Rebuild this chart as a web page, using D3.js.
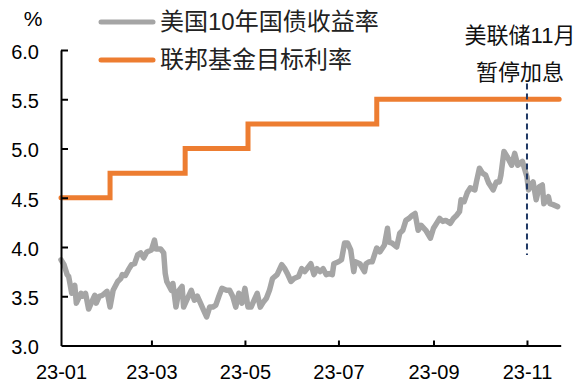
<!DOCTYPE html>
<html>
<head>
<meta charset="utf-8">
<script src="https://cdn.jsdelivr.net/npm/d3@7"></script>
<style>
  body { margin: 0; background: #fff; }
  svg { display: block; font-family: "Liberation Sans", Arial, "Noto Sans CJK SC", sans-serif; }
</style>
</head>
<body>
<svg id="chart" width="582" height="385"></svg>
<script>
// 美国10年国债收益率
const ust10y = [
  ["2023-01-01",3.87],["2023-01-03",3.82],["2023-01-05",3.72],["2023-01-06",3.70],["2023-01-08",3.53],
  ["2023-01-10",3.61],["2023-01-11",3.43],["2023-01-14",3.53],["2023-01-15",3.50],["2023-01-17",3.53],
  ["2023-01-19",3.37],["2023-01-21",3.44],["2023-01-23",3.51],["2023-01-24",3.43],["2023-01-26",3.50],
  ["2023-01-28",3.51],["2023-01-31",3.55],["2023-02-02",3.39],["2023-02-04",3.56],["2023-02-07",3.65],
  ["2023-02-09",3.68],["2023-02-10",3.72],["2023-02-12",3.71],["2023-02-14",3.77],["2023-02-16",3.82],
  ["2023-02-18",3.83],["2023-02-20",3.92],["2023-02-22",3.94],["2023-02-24",3.89],["2023-02-26",3.95],
  ["2023-03-01",3.97],["2023-03-03",4.07],["2023-03-04",3.98],["2023-03-07",3.98],["2023-03-09",3.94],
  ["2023-03-10",3.73],["2023-03-11",3.65],["2023-03-14",3.56],["2023-03-15",3.63],["2023-03-17",3.39],
  ["2023-03-19",3.56],["2023-03-21",3.60],["2023-03-22",3.39],["2023-03-24",3.46],["2023-03-27",3.56],
  ["2023-03-29",3.46],["2023-03-31",3.50],["2023-04-02",3.43],["2023-04-04",3.36],["2023-04-06",3.29],
  ["2023-04-08",3.39],["2023-04-10",3.39],["2023-04-12",3.41],["2023-04-14",3.50],["2023-04-16",3.58],
  ["2023-04-19",3.56],["2023-04-21",3.56],["2023-04-23",3.50],["2023-04-25",3.39],["2023-04-27",3.53],
  ["2023-04-29",3.43],["2023-05-01",3.58],["2023-05-03",3.39],["2023-05-05",3.39],["2023-05-07",3.46],
  ["2023-05-09",3.53],["2023-05-11",3.39],["2023-05-13",3.44],["2023-05-15",3.48],["2023-05-17",3.56],
  ["2023-05-19",3.68],["2023-05-22",3.72],["2023-05-25",3.82],["2023-05-27",3.78],["2023-05-29",3.72],
  ["2023-05-31",3.65],["2023-06-02",3.68],["2023-06-05",3.70],["2023-06-07",3.78],["2023-06-09",3.75],
  ["2023-06-13",3.83],["2023-06-15",3.72],["2023-06-17",3.78],["2023-06-19",3.75],["2023-06-21",3.78],
  ["2023-06-23",3.72],["2023-06-25",3.73],["2023-06-27",3.72],["2023-06-28",3.83],["2023-07-01",3.85],
  ["2023-07-03",3.87],["2023-07-05",4.04],["2023-07-07",4.04],["2023-07-09",3.97],["2023-07-11",3.75],
  ["2023-07-12",3.85],["2023-07-15",3.83],["2023-07-18",3.75],["2023-07-19",3.83],["2023-07-21",3.85],
  ["2023-07-23",3.85],["2023-07-26",3.99],["2023-07-28",3.95],["2023-07-31",4.02],["2023-08-02",4.19],
  ["2023-08-03",4.05],["2023-08-05",4.04],["2023-08-08",4.00],["2023-08-10",4.14],["2023-08-12",4.17],
  ["2023-08-14",4.27],["2023-08-16",4.29],["2023-08-18",4.32],["2023-08-20",4.34],["2023-08-22",4.17],
  ["2023-08-24",4.22],["2023-08-27",4.17],["2023-08-30",4.09],["2023-09-01",4.19],["2023-09-03",4.24],
  ["2023-09-05",4.29],["2023-09-07",4.26],["2023-09-09",4.27],["2023-09-12",4.24],["2023-09-14",4.29],
  ["2023-09-16",4.32],["2023-09-18",4.36],["2023-09-19",4.48],["2023-09-21",4.46],["2023-09-23",4.55],
  ["2023-09-25",4.60],["2023-09-28",4.58],["2023-09-29",4.66],["2023-10-01",4.80],["2023-10-03",4.75],
  ["2023-10-05",4.73],["2023-10-07",4.65],["2023-10-10",4.58],["2023-10-12",4.66],["2023-10-14",4.66],
  ["2023-10-15",4.73],["2023-10-17",4.97],["2023-10-19",4.92],["2023-10-22",4.83],["2023-10-24",4.95],
  ["2023-10-26",4.83],["2023-10-29",4.87],["2023-11-01",4.71],["2023-11-02",4.58],["2023-11-04",4.63],
  ["2023-11-05",4.66],["2023-11-07",4.48],["2023-11-09",4.61],["2023-11-11",4.63],["2023-11-12",4.44],
  ["2023-11-15",4.51],["2023-11-16",4.44],["2023-11-18",4.43],["2023-11-21",4.41]
]

// 联邦基金目标利率 (上限), step changes
const fedRate = [
  ["2023-01-01",4.50],["2023-02-02",4.75],["2023-03-23",5.00],
  ["2023-05-03",5.25],["2023-07-26",5.50],["2023-11-22",5.50]
]

const yTicks = [3.0, 3.5, 4.0, 4.5, 5.0, 5.5, 6.0]
const xTicks = ["2023-01-01","2023-03-01","2023-05-01","2023-07-01","2023-09-01","2023-11-01"]
const seriesNames = ["美国10年国债收益率", "联邦基金目标利率"]
const pauseDate = "2023-11-01"
const pauseRange = [3.92, 5.66]
const pauseText = ["美联储11月", "暂停加息"]

const parse = d3.timeParse("%Y-%m-%d")
const svg = d3.select("#chart")

const x = d3.scaleTime()
  .domain([parse("2023-01-01"), parse("2023-11-23")])
  .range([61, 560.7])
const y = d3.scaleLinear()
  .domain([3, 6])
  .range([345.5, 50])

const grayColor = "#a5a5a5"
const orangeColor = "#ed7d31"

// Lines
const line = d3.line()
  .x(d => x(parse(d[0])))
  .y(d => y(d[1]))

svg.append("path")
  .datum(fedRate)
  .attr("fill", "none")
  .attr("stroke", orangeColor)
  .attr("stroke-width", 5)
  .attr("stroke-linecap", "round")
  .attr("d", line.curve(d3.curveStepAfter))

svg.append("path")
  .datum(ust10y)
  .attr("fill", "none")
  .attr("stroke", grayColor)
  .attr("stroke-width", 5.5)
  .attr("stroke-linejoin", "round")
  .attr("stroke-linecap", "round")
  .attr("d", line.curve(d3.curveLinear))

// Axes
const yAxis = svg.append("g")
  .attr("transform", `translate(${x.range()[0]},0)`)
  .call(d3.axisLeft(y).tickValues(yTicks).tickFormat(d3.format(".1f")).tickSize(-7).tickSizeOuter(0).tickPadding(22))
const xAxis = svg.append("g")
  .attr("transform", `translate(0,${y.range()[0]})`)
  .call(d3.axisBottom(x).tickValues(xTicks.map(parse)).tickFormat(d3.timeFormat("%y-%m")).tickSize(-5).tickSizeOuter(0).tickPadding(19))

for (const g of [yAxis, xAxis]) {
  g.select(".domain").attr("stroke", "#000").attr("stroke-width", 2)
  g.selectAll(".tick line").attr("stroke", "#000").attr("stroke-width", 2)
  g.selectAll(".tick text")
    .attr("fill", "#000")
    .style("font-size", "20px")
    .style("font-family", "'Liberation Sans', Arial, sans-serif")
}
yAxis.selectAll(".tick text").attr("dy", "0.42em")
// drop the 3.0/6.0 inner ticks that sit on the axis ends
yAxis.selectAll(".tick line").filter(d => d === 3).remove()
xAxis.selectAll(".tick line").filter((d, i) => i === 0).remove()

// Unit label
svg.append("text")
  .attr("x", 33)
  .attr("y", 26)
  .attr("text-anchor", "middle")
  .style("font-size", "21px")
  .text("%")

// Legend
const legend = svg.append("g")
const legendRows = [
  { name: seriesNames[0], color: grayColor, y: 22 },
  { name: seriesNames[1], color: orangeColor, y: 60 }
]
legendRows.forEach(r => {
  legend.append("line")
    .attr("x1", 101).attr("x2", 153)
    .attr("y1", r.y).attr("y2", r.y)
    .attr("stroke", r.color)
    .attr("stroke-width", 5)
    .attr("stroke-linecap", "round")
  legend.append("text")
    .attr("x", 160)
    .attr("y", r.y + 8)
    .style("font-size", "24px")
    .style("font-family", "'Liberation Sans', 'Noto Sans CJK SC', sans-serif")
    .attr("fill", "#222")
    .text(r.name)
})

// Pause annotation
svg.append("line")
  .attr("x1", x(parse(pauseDate))).attr("x2", x(parse(pauseDate)))
  .attr("y1", y(pauseRange[1])).attr("y2", y(pauseRange[0]))
  .attr("stroke", "#1f3864")
  .attr("stroke-width", 2)
  .attr("stroke-dasharray", "6,4")

pauseText.forEach((t, i) => {
  svg.append("text")
    .attr("x", 520)
    .attr("y", 43 + i * 37)
    .attr("text-anchor", "middle")
    .style("font-size", "22px")
    .style("font-family", "'Liberation Sans', 'Noto Sans CJK SC', sans-serif")
    .attr("fill", "#111")
    .text(t)
})
</script>
</body>
</html>
